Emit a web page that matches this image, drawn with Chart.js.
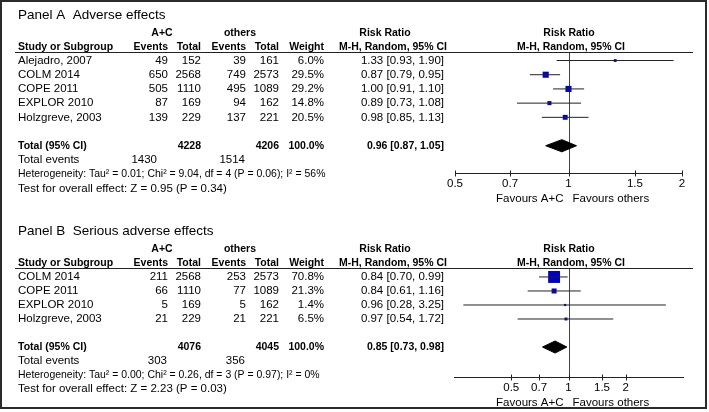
<!DOCTYPE html>
<html>
<head>
<meta charset="utf-8">
<script src="https://cdn.jsdelivr.net/npm/chart.js@4.4.0/dist/chart.umd.min.js"></script>
<style>
  body { margin: 0; background: #fff; overflow: hidden; }
  #frame { position: absolute; left: 0; top: 0; width: 703px; height: 405px; border: 2px solid #2b2b2b; }
  .panel { position: absolute; left: 0; width: 709px; height: 206px; }
</style>
</head>
<body>
<div id="frame"></div>
<div class="panel" style="top:0"><canvas id="panelA"></canvas></div>
<div class="panel" style="top:206px"><canvas id="panelB"></canvas></div>
<script>
// Panel A - adverse effects
const studiesA = ["Alejadro, 2007", "COLM 2014", "COPE 2011", "EXPLOR 2010", "Holzgreve, 2003"];
const acEventsA = [49, 650, 505, 87, 139];
const acTotalA = [152, 2568, 1110, 169, 229];
const otherEventsA = [39, 749, 495, 94, 137];
const otherTotalA = [161, 2573, 1089, 162, 221];
const weightA = [6.0, 29.5, 29.2, 14.8, 20.5];
const rrA = [1.33, 0.87, 1.00, 0.89, 0.98];
const rrLowA = [0.93, 0.79, 0.91, 0.73, 0.85];
const rrHighA = [1.90, 0.95, 1.10, 1.08, 1.13];
const pooledA = [0.96, 0.87, 1.05];      // estimate, low, high
const totalsA = [4228, 4206];            // A+C, others
const totalEventsA = [1430, 1514];
const hetA = "Heterogeneity: Tau² = 0.01; Chi² = 9.04, df = 4 (P = 0.06); I² = 56%";
const testA = "Test for overall effect: Z = 0.95 (P = 0.34)";
const ticksA = [0.5, 0.7, 1, 1.5, 2];

// Panel B - serious adverse effects
const studiesB = ["COLM 2014", "COPE 2011", "EXPLOR 2010", "Holzgreve, 2003"];
const acEventsB = [211, 66, 5, 21];
const acTotalB = [2568, 1110, 169, 229];
const otherEventsB = [253, 77, 5, 21];
const otherTotalB = [2573, 1089, 162, 221];
const weightB = [70.8, 21.3, 1.4, 6.5];
const rrB = [0.84, 0.84, 0.96, 0.97];
const rrLowB = [0.70, 0.61, 0.28, 0.54];
const rrHighB = [0.99, 1.16, 3.25, 1.72];
const pooledB = [0.85, 0.73, 0.98];
const totalsB = [4076, 4045];
const totalEventsB = [303, 356];
const hetB = "Heterogeneity: Tau² = 0.00; Chi² = 0.26, df = 3 (P = 0.97); I² = 0%";
const testB = "Test for overall effect: Z = 2.23 (P = 0.03)";
const ticksB = [0.5, 0.7, 1, 1.5, 2];

const FONT = "'Liberation Sans', Arial, sans-serif";
const INK = "#000";
const ciText = (r, lo, hi) => `${r.toFixed(2)} [${lo.toFixed(2)}, ${hi.toFixed(2)}]`;

const panels = [
    {
        id: "panelA", title: "Panel A  Adverse effects",
        studies: studiesA, acEvents: acEventsA, acTotal: acTotalA,
        otherEvents: otherEventsA, otherTotal: otherTotalA, weight: weightA,
        rr: rrA, lo: rrLowA, hi: rrHighA, pooled: pooledA, totals: totalsA,
        totalEvents: totalEventsA, het: hetA, test: testA, ticks: ticksA,
        xMin: 0.5, xMax: 2, yMin: -0.6, yMax: 7.92,
        pad: { left: 455, right: 27, top: 52, bottom: 13 }, evX: 157
    },
    {
        id: "panelB", title: "Panel B  Serious adverse effects",
        studies: studiesB, acEvents: acEventsB, acTotal: acTotalB,
        otherEvents: otherEventsB, otherTotal: otherTotalB, weight: weightB,
        rr: rrB, lo: rrLowB, hi: rrHighB, pooled: pooledB, totals: totalsB,
        totalEvents: totalEventsB, het: hetB, test: testB, ticks: ticksB,
        xMin: 0.25, xMax: 4, yMin: -0.64, yMax: 7.14,
        pad: { left: 454, right: 26, top: 62, bottom: 15 }, evX: 167
    }
];

function forestPlugin(p) {
    return {
        id: "forest_" + p.id,
        beforeDatasetsDraw(chart) {
            // line of no effect
            const { ctx, chartArea, scales: { x } } = chart;
            const x1 = Math.round(x.getPixelForValue(1)) + 0.5;
            ctx.save();
            ctx.strokeStyle = "#444";
            ctx.lineWidth = 1;
            ctx.beginPath();
            ctx.moveTo(x1, chartArea.top);
            ctx.lineTo(x1, chartArea.bottom);
            ctx.stroke();
            ctx.restore();
        },
        afterDraw(chart) {
            const { ctx, chartArea, scales: { x, y } } = chart;
            const top = chartArea.top;
            const txt = (s, px, py, align, style, squeeze) => {
                ctx.font = style || `11.5px ${FONT}`;
                ctx.textAlign = align;
                ctx.textBaseline = "middle";
                ctx.fillStyle = INK;
                if (squeeze) {
                    // narrower set, same glyph height
                    ctx.save();
                    ctx.translate(px, py);
                    ctx.scale(squeeze, 1);
                    ctx.fillText(s, 0, 0);
                    ctx.restore();
                } else {
                    ctx.fillText(s, px, py);
                }
            };
            const bold = `bold 10.5px ${FONT}`;
            ctx.save();

            txt(p.title, 18, top - 36.5, "left", `13.5px ${FONT}`);

            // column headers
            txt("A+C", 162, top - 18.5, "center", bold);
            txt("others", 240, top - 18.5, "center", bold);
            txt("Risk Ratio", 385, top - 18.5, "center", bold);
            txt("Risk Ratio", 569, top - 18.5, "center", bold);
            const h2 = top - 4.5;
            txt("Study or Subgroup", 18, h2, "left", bold);
            txt("Events", 168, h2, "right", bold);
            txt("Total", 201, h2, "right", bold);
            txt("Events", 246, h2, "right", bold);
            txt("Total", 279, h2, "right", bold);
            txt("Weight", 324, h2, "right", bold);
            txt("M-H, Random, 95% CI", 393, h2, "center", bold);
            txt("M-H, Random, 95% CI", 571, h2, "center", bold);

            ctx.strokeStyle = "#222";
            ctx.lineWidth = 1;
            ctx.beginPath();
            ctx.moveTo(15, Math.round(top) + 0.5);
            ctx.lineTo(693, Math.round(top) + 0.5);
            ctx.stroke();

            // study rows
            p.studies.forEach((s, i) => {
                const py = y.getPixelForValue(i);
                txt(s, 18, py, "left");
                txt(String(p.acEvents[i]), 168, py, "right");
                txt(String(p.acTotal[i]), 201, py, "right");
                txt(String(p.otherEvents[i]), 246, py, "right");
                txt(String(p.otherTotal[i]), 279, py, "right");
                txt(p.weight[i].toFixed(1) + "%", 324, py, "right");
                txt(ciText(p.rr[i], p.lo[i], p.hi[i]), 444, py, "right");
            });

            // totals
            const ti = p.studies.length + 1;
            let py = y.getPixelForValue(ti);
            txt("Total (95% CI)", 18, py, "left", bold);
            txt(String(p.totals[0]), 201, py, "right", bold);
            txt(String(p.totals[1]), 279, py, "right", bold);
            txt("100.0%", 324, py, "right", bold);
            txt(ciText(p.pooled[0], p.pooled[1], p.pooled[2]), 444, py, "right", bold);
            py = y.getPixelForValue(ti + 1);
            txt("Total events", 18, py, "left");
            txt(String(p.totalEvents[0]), p.evX, py, "right");
            txt(String(p.totalEvents[1]), 245, py, "right");
            txt(p.het, 18, y.getPixelForValue(ti + 2), "left", null, 0.91);
            txt(p.test, 18, y.getPixelForValue(ti + 3), "left");

            // tick marks crossing the axis
            const ay = Math.round(chartArea.bottom) + 0.5;
            ctx.strokeStyle = "#222";
            ctx.beginPath();
            p.ticks.forEach(t => {
                const tx = Math.round(x.getPixelForValue(t)) + 0.5;
                ctx.moveTo(tx, ay - 3);
                ctx.lineTo(tx, ay + 3);
            });
            ctx.stroke();

            const x1 = x.getPixelForValue(1);
            txt("Favours A+C", x1 - 5, chartArea.bottom + 26, "right");
            txt("Favours others", x1 + 4, chartArea.bottom + 26, "left");
            ctx.restore();
        }
    };
}

function buildChart(p) {
    const ciSets = p.studies.map((s, i) => ({
        type: "scatter",
        data: [{ x: p.lo[i], y: i }, { x: p.hi[i], y: i }],
        showLine: true,
        borderColor: "#222",
        borderWidth: 1,
        pointRadius: 0
    }));
    const ti = p.studies.length + 1;
    const hh = 0.43;
    const [est, lo, hi] = p.pooled;
    new Chart(document.getElementById(p.id).getContext("2d"), {
        type: "scatter",
        data: {
            datasets: [
                ...ciSets,
                {
                    type: "scatter",
                    data: p.rr.map((r, i) => ({ x: r, y: i })),
                    pointStyle: "rect",
                    // square side grows with the study weight
                    pointRadius: p.weight.map(w => (2 + 0.14 * w) / Math.SQRT2),
                    backgroundColor: "#0000c8",
                    borderWidth: 0
                },
                {
                    type: "line",
                    data: [
                        { x: lo, y: ti }, { x: est, y: ti - hh }, { x: hi, y: ti },
                        { x: est, y: ti + hh }, { x: lo, y: ti }
                    ],
                    borderColor: "#000",
                    borderWidth: 1,
                    backgroundColor: "#000",
                    fill: "shape",
                    tension: 0,
                    pointRadius: 0
                }
            ]
        },
        options: {
            responsive: true,
            maintainAspectRatio: false,
            animation: false,
            events: [],
            layout: { padding: p.pad },
            scales: {
                x: {
                    type: "logarithmic",
                    min: p.xMin,
                    max: p.xMax,
                    grid: { display: false, drawTicks: false },
                    border: { display: true, color: "#222", width: 1 },
                    afterBuildTicks: scale => { scale.ticks = p.ticks.map(v => ({ value: v })); },
                    afterFit: scale => { scale.height = 20; },
                    ticks: {
                        autoSkip: false,
                        maxRotation: 0,
                        padding: 4,
                        color: INK,
                        font: { family: FONT, size: 11.5 },
                        callback: v => String(v)
                    }
                },
                y: {
                    type: "linear",
                    reverse: true,
                    min: p.yMin,
                    max: p.yMax,
                    display: false
                }
            },
            plugins: {
                legend: { display: false },
                tooltip: { enabled: false }
            }
        },
        plugins: [forestPlugin(p)]
    });
}

panels.forEach(buildChart);
</script>
</body>
</html>
